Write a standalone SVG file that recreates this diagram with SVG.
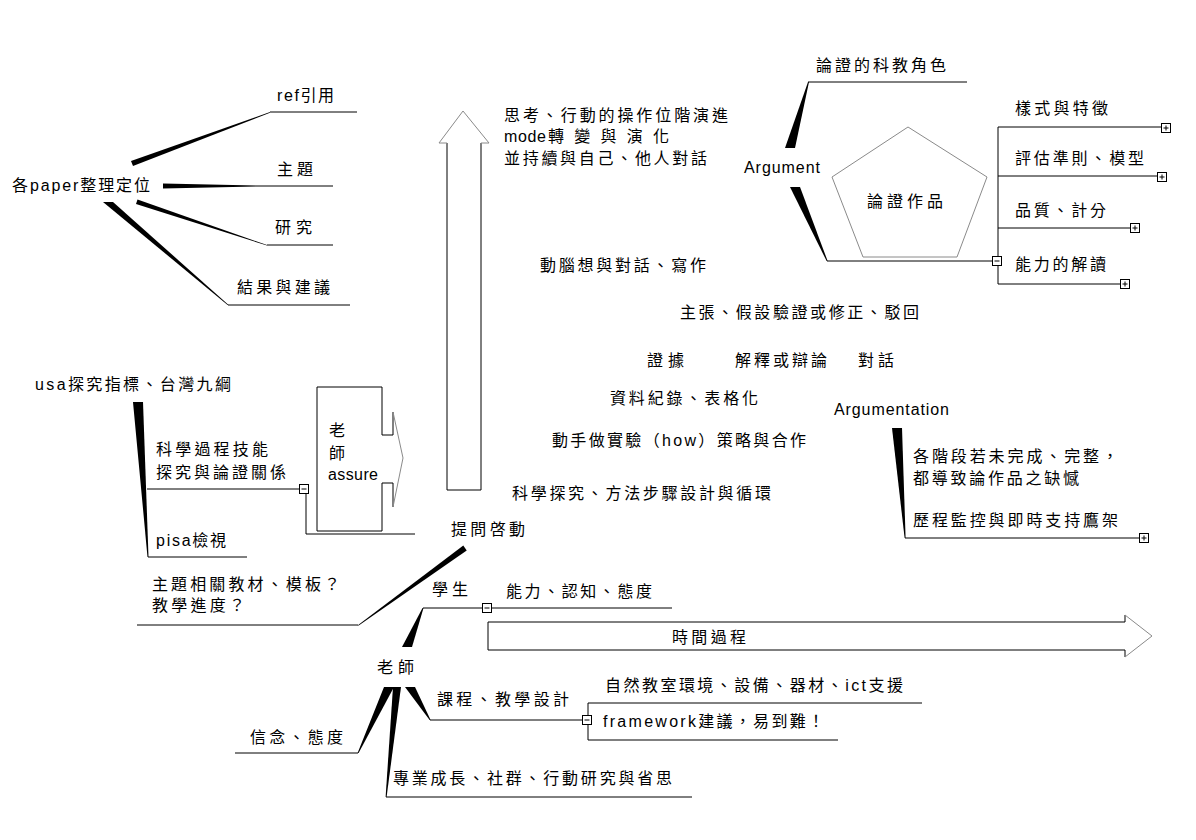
<svg xmlns="http://www.w3.org/2000/svg" width="1196" height="840" viewBox="0 0 1196 840">
<style>
text{font-family:"Liberation Sans","Noto Sans CJK TC",sans-serif;font-size:16px;fill:#000}
.ln{stroke:#000;stroke-width:1;fill:none}
.gr{stroke:#8a8a8a;stroke-width:1;fill:none}
.wd{fill:#000;stroke:none}
.bx{fill:#fff;stroke:#000;stroke-width:1}
</style>
<defs>
<g id="minus"><rect class="bx" x="0.5" y="0.5" width="9" height="9"/><path class="ln" d="M2.5,5H7.5"/></g>
<g id="plus"><rect class="bx" x="0.5" y="0.5" width="9" height="9"/><path class="ln" d="M2.5,5H7.5M5,2.5V7.5"/></g>
</defs>
<rect width="1196" height="840" fill="#fff"/>

<g id="connectors">
<polygon class="wd" points="131,161 270,112 270,112.8 133,166"/>
<path class="ln" d="M270,112H357"/>
<polygon class="wd" points="163,183.5 257,185.6 257,186.4 163,188.5"/>
<path class="ln" d="M257,186H333"/>
<polygon class="wd" points="136,204 137.5,199.5 267,245 267,245.6"/>
<path class="ln" d="M267,245H333"/>
<polygon class="wd" points="103,202 113,202 228.6,305 227.6,305"/>
<path class="ln" d="M228,305H350"/>
<polygon class="wd" points="133,402 143,402 148.5,557 147.5,557"/>
<path class="ln" d="M147,489H299M148,557H247"/>
<path class="ln" d="M306,494V534H415"/>
<path class="ln" d="M137,625H358"/>
<polygon class="wd" points="357.5,625.4 463.3,545.6 466.7,550.4 358.7,625.4"/>
<polygon class="wd" points="402,647 412,647 423.5,608 422.5,608"/>
<path class="ln" d="M423,608H482M492,608H672"/>
<polygon class="wd" points="384,687 394,687 358.6,753 357.6,753"/>
<path class="ln" d="M235,753H358"/>
<polygon class="wd" points="393,687 401,687 386.6,797 385.6,797"/>
<path class="ln" d="M386,797H692"/>
<polygon class="wd" points="405,687 415,687 430.6,720 429.6,720"/>
<path class="ln" d="M430,720H582"/>
<path class="ln" d="M922,703H588V740H838"/>
<polygon class="wd" points="785,148 795,148 809,82 808,82"/>
<path class="ln" d="M808,82H967"/>
<polygon class="wd" points="790,187 800,187 827.6,261 826.6,261"/>
<path class="ln" d="M827,261H992"/>
<path class="ln" d="M998,127V284"/>
<path class="ln" d="M998,127H1161M998,176H1157M998,228H1130M998,284H1120"/>
<polygon class="wd" points="892,428 902,428 905.6,538 904.6,538"/>
<path class="ln" d="M905,538H1139"/>
<path class="ln" d="M447,143V490H481V143"/>
<path class="gr" d="M447,143H439L463,111L489,143H481"/>
<path class="ln" d="M1125,615V622H488V650H1125V657"/>
<path class="gr" d="M1125,615L1152,636L1125,657"/>
</g>

<g id="n-paper"><text x="12" y="191" textLength="138">各paper整理定位</text></g>
<g id="n-ref"><text x="277" y="101" textLength="57">ref引用</text></g>
<g id="n-topic"><text x="277" y="175" textLength="36">主題</text></g>
<g id="n-research"><text x="275" y="233" textLength="37">研究</text></g>
<g id="n-result"><text x="237" y="293" textLength="93">結果與建議</text></g>

<g id="n-usa"><text x="35" y="390" textLength="196">usa探究指標、台灣九綱</text></g>
<g id="n-skill"><text x="156" y="455" textLength="112">科學過程技能</text><text x="156" y="478" textLength="130">探究與論證關係</text><use href="#minus" x="299" y="484"/></g>
<g id="n-pisa"><text x="156" y="546" textLength="70">pisa檢視</text></g>
<g id="n-assure">
<path class="ln" d="M393,412V435H382V387H317V531H382V483H393V507"/>
<path class="gr" d="M393,412L403,458L393,507"/>
<text x="329" y="436">老</text><text x="329" y="459">師</text><text x="328" y="480" textLength="50">assure</text>
</g>
<g id="n-material"><text x="152" y="590" textLength="188">主題相關教材、模板？</text><text x="152" y="611" textLength="93">教學進度？</text></g>
<g id="n-ask"><text x="451" y="535" textLength="74">提問啓動</text></g>
<g id="n-student"><text x="432" y="595" textLength="36">學生</text><use href="#minus" x="482" y="603"/></g>
<g id="n-ability"><text x="506" y="597" textLength="146">能力、認知、態度</text></g>
<g id="n-time"><text x="672" y="643" textLength="74">時間過程</text></g>
<g id="n-teacher"><text x="377" y="673" textLength="37">老師</text></g>
<g id="n-course"><text x="437" y="705" textLength="132">課程、教學設計</text><use href="#minus" x="582" y="715"/></g>
<g id="n-env"><text x="605" y="691" textLength="298">自然教室環境、設備、器材、ict支援</text></g>
<g id="n-framework"><text x="603" y="727" textLength="221">framework建議，易到難！</text></g>
<g id="n-belief"><text x="250" y="743" textLength="93">信念、態度</text></g>
<g id="n-prof"><text x="393" y="784" textLength="279">專業成長、社群、行動研究與省思</text></g>

<g id="n-think"><text x="504" y="121" textLength="224">思考、行動的操作位階演進</text><text x="504" y="142"><tspan textLength="42">mode</tspan><tspan x="548" textLength="121">轉變與演化</tspan></text><text x="504" y="164" textLength="203">並持續與自己、他人對話</text></g>
<g id="n-brain"><text x="540" y="271" textLength="166">動腦想與對話、寫作</text></g>
<g id="n-claim"><text x="680" y="318" textLength="239">主張、假設驗證或修正、駁回</text></g>
<g id="n-evidence"><text x="647" y="366" textLength="37">證據</text></g>
<g id="n-explain"><text x="735" y="366" textLength="92">解釋或辯論</text></g>
<g id="n-dialog"><text x="858" y="366" textLength="36">對話</text></g>
<g id="n-data"><text x="610" y="404" textLength="148">資料紀錄、表格化</text></g>
<g id="n-hands"><text x="552" y="446" textLength="254">動手做實驗（how）策略與合作</text></g>
<g id="n-inquiry"><text x="512" y="499" textLength="259">科學探究、方法步驟設計與循環</text></g>

<g id="n-role"><text x="816" y="71" textLength="130">論證的科教角色</text></g>
<g id="n-argument"><text x="744" y="173" textLength="76">Argument</text><use href="#minus" x="992" y="256"/></g>
<g id="n-work"><polygon class="gr" points="908,127 987,177 957,257 863,257 832,177"/><text x="867" y="207" textLength="76">論證作品</text></g>
<g id="n-style"><text x="1015" y="114" textLength="93">樣式與特徵</text><use href="#plus" x="1161" y="123"/></g>
<g id="n-criteria"><text x="1015" y="164" textLength="129">評估準則、模型</text><use href="#plus" x="1157" y="172"/></g>
<g id="n-quality"><text x="1015" y="216" textLength="91">品質、計分</text><use href="#plus" x="1130" y="223"/></g>
<g id="n-read"><text x="1015" y="270" textLength="91">能力的解讀</text><use href="#plus" x="1120" y="279"/></g>
<g id="n-argumentation"><text x="834" y="415" textLength="115">Argumentation</text></g>
<g id="n-stage"><text x="913" y="462" textLength="205">各階段若未完成、完整，</text><text x="913" y="484" textLength="166">都導致論作品之缺憾</text><text x="913" y="526" textLength="205">歷程監控與即時支持鷹架</text><use href="#plus" x="1139" y="533"/></g>
</svg>
